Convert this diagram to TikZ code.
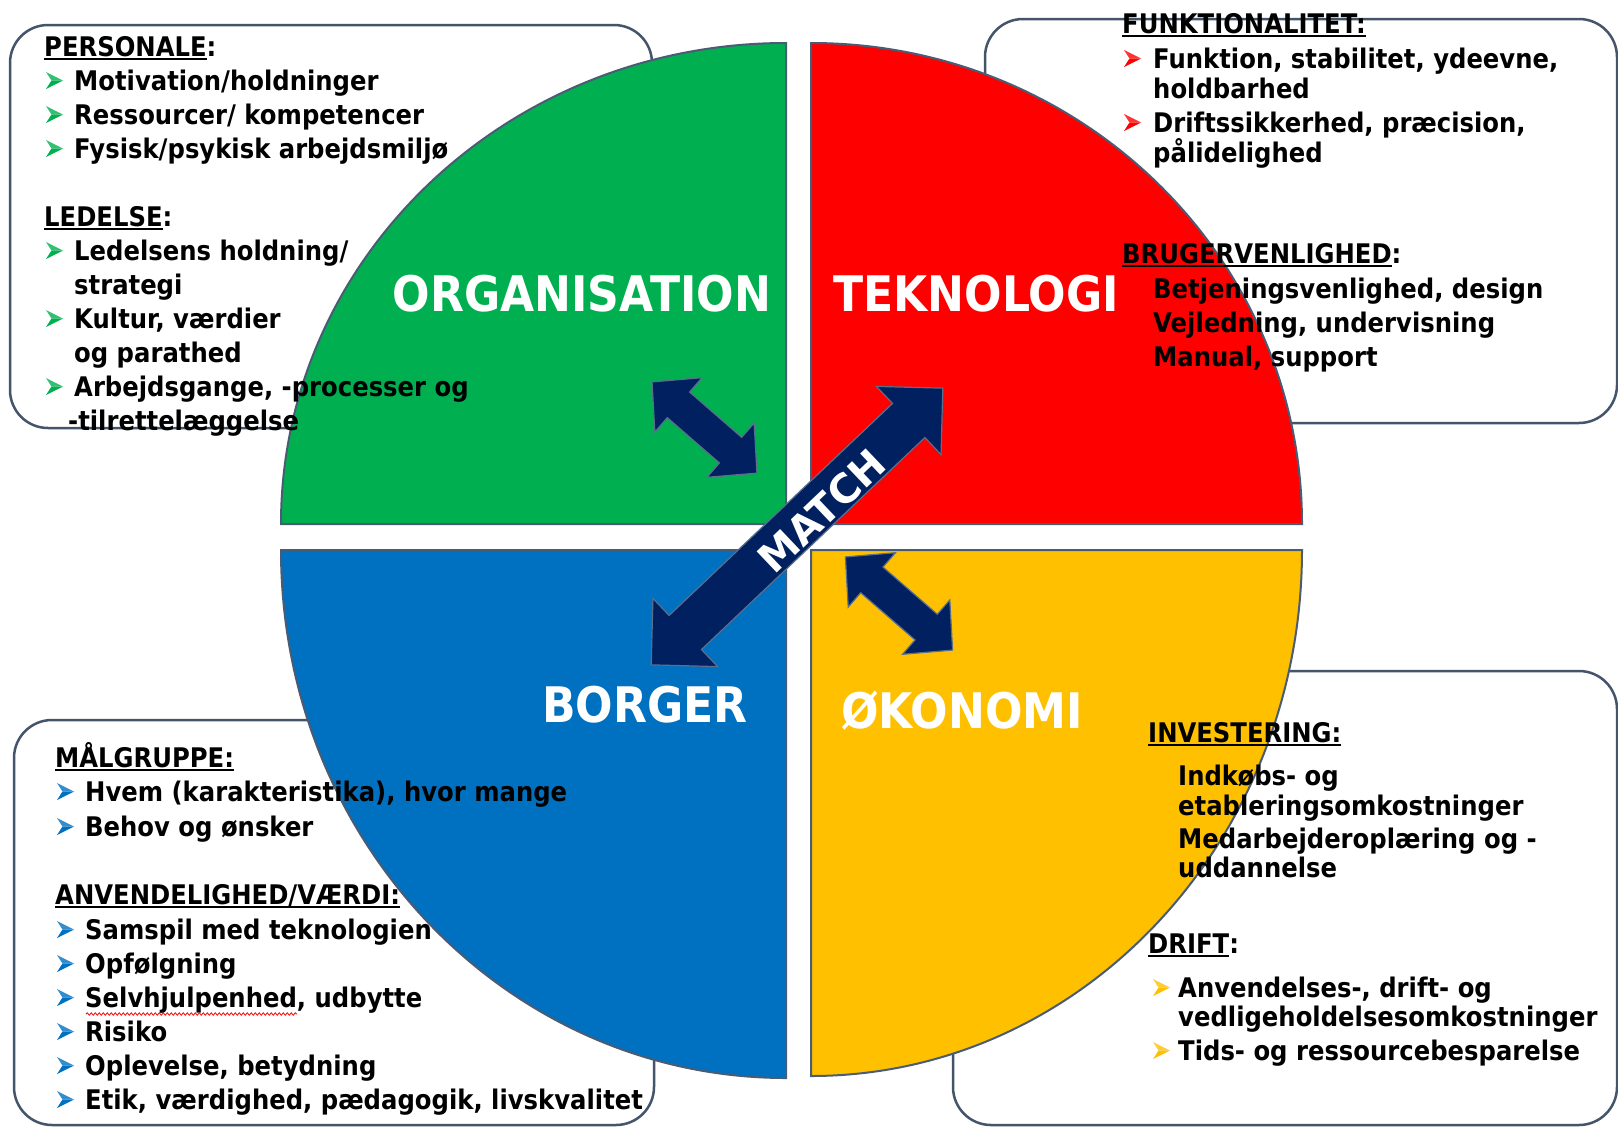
\documentclass[tikz,border=0pt]{standalone}
\usepackage{fontspec}
\usetikzlibrary{decorations.pathmorphing}

\newfontfamily\bodyfont{DejaVu Sans}[FakeStretch=0.9]
\newfontfamily\matchfont{DejaVu Sans}

\definecolor{orggreen}{HTML}{00B050}
\definecolor{tekred}{HTML}{FF0000}
\definecolor{borgblue}{HTML}{0070C0}
\definecolor{okoyellow}{HTML}{FFC000}
\definecolor{navy}{HTML}{002060}
\definecolor{edgegray}{HTML}{4A5C74}
\definecolor{boxgray}{HTML}{44546A}
\definecolor{arrowedge}{HTML}{5A6F8C}

% underline drawn as a plain rule below the heading word
\newcommand{\ulhead}[1]{\setbox0\hbox{#1}\rlap{\rule[-3.5pt]{\wd0}{2pt}}\box0}

\tikzset{
  quad/.style={draw=edgegray, line width=2pt},
  infobox/.style={draw=boxgray, line width=2.5pt, rounded corners=38pt, fill=white},
  matcharrow/.style={fill=navy, draw=arrowedge, line width=1.2pt},
  txt/.style={anchor=base west, inner sep=0pt, font=\bodyfont\bfseries\fontsize{27}{32}\selectfont},
  quadlabel/.style={anchor=base, inner sep=0pt, text=white, font=\bodyfont\bfseries\fontsize{49}{56}\selectfont},
}

\begin{document}
\begin{tikzpicture}[x=1pt,y=-1pt]
    \useasboundingbox (0,0) rectangle (1618,1128);
    \fill[white] (0,0) rectangle (1618,1128);

    % text boxes behind the circle
    \draw[infobox] (10,25) rectangle (652,428);
    \draw[infobox] (985,19) rectangle (1617,423);
    \draw[infobox] (14,720) rectangle (654,1125);
    \draw[infobox] (953,671) rectangle (1617,1125);

    % four quarters
    \draw[quad, fill=orggreen] (786,524) -- (281,524) arc[start angle=180, end angle=270, x radius=505, y radius=481] -- cycle;
    \draw[quad, fill=tekred] (811,524) -- (811,43) arc[start angle=270, end angle=360, x radius=491, y radius=481] -- cycle;
    \draw[quad, fill=borgblue] (786,550) -- (281,550) arc[start angle=180, end angle=90, x radius=505, y radius=528] -- cycle;
    \draw[quad, fill=okoyellow] (811,550) -- (1302,550) arc[start angle=0, end angle=90, x radius=491, y radius=526] -- cycle;

    % double arrows: centre / angle / length / half shaft / half head / head length
    \foreach \cx/\cy/\ang/\len/\sh/\hh/\hl in {704.5/427.5/-41/139/17/36/35, 899/603.5/-41/142/17/36/35, 797/526.5/43.5/402/23.5/47/47}{
        \draw[matcharrow, shift={(\cx,\cy)}, rotate=\ang]
            (-\len/2,0) -- (-\len/2+\hl,\hh) -- (-\len/2+\hl,\sh) -- (\len/2-\hl,\sh) -- (\len/2-\hl,\hh)
            -- (\len/2,0) -- (\len/2-\hl,-\hh) -- (\len/2-\hl,-\sh) -- (-\len/2+\hl,-\sh) -- (-\len/2+\hl,-\hh) -- cycle;
    }
    \node[rotate=43.5, inner sep=0pt, text=white, font=\matchfont\bfseries\fontsize{40}{44}\selectfont] (match) at (822,511) {MATCH};

    % quarter labels
    \node[quadlabel] (org) at (582,311) {ORGANISATION};
    \node[quadlabel] (tek) at (976,311) {TEKNOLOGI};
    \node[quadlabel] (borger) at (645,722) {BORGER};
    \node[quadlabel] (oko) at (962,728) {ØKONOMI};

    % organisation box
    \node[txt] (personale) at (44,56) {\ulhead{PERSONALE}:};
    \node[txt] (ledelse) at (44,226) {\ulhead{LEDELSE}:};
    \foreach \y/\t in {90/{Motivation/holdninger}, 124/{Ressourcer/ kompetencer}, 158/{Fysisk/psykisk arbejdsmiljø},
                       260/{Ledelsens holdning/}, 294/{strategi}, 328/{Kultur, værdier}, 362/{og parathed},
                       396/{Arbejdsgange, -processer og}}{
        \node[txt] (tl\y) at (74,\y) {\t};
    }
    \node[txt] (tl430) at (68,430) {-tilrettelæggelse};

    % teknologi box
    \node[txt] (funk) at (1122,33) {\ulhead{FUNKTIONALITET:}};
    \node[txt] (brug) at (1122,263) {\ulhead{BRUGERVENLIGHED}:};
    \foreach \y/\t in {68/{Funktion, stabilitet, ydeevne,}, 98/{holdbarhed}, 132/{Driftssikkerhed, præcision,}, 162/{pålidelighed},
                       298/{Betjeningsvenlighed, design}, 332/{Vejledning, undervisning}, 366/{Manual, support}}{
        \node[txt] (tr\y) at (1153,\y) {\t};
    }

    % borger box
    \node[txt] (maal) at (55,767) {\ulhead{MÅLGRUPPE:}};
    \node[txt] (anv) at (55,904) {\ulhead{ANVENDELIGHED/VÆRDI:}};
    \foreach \y/\t in {801/{Hvem (karakteristika), hvor mange}, 836/{Behov og ønsker}, 939/{Samspil med teknologien},
                       973/{Opfølgning}, 1007/{Selvhjulpenhed, udbytte}, 1041/{Risiko}, 1075/{Oplevelse, betydning},
                       1109/{Etik, værdighed, pædagogik, livskvalitet}}{
        \node[txt] (bl\y) at (85,\y) {\t};
    }
    \draw[tekred, line width=0.8pt, decorate, decoration={snake, amplitude=1.2pt, segment length=4pt}] (86,1014) -- (297,1014);

    % okonomi box
    \node[txt] (inv) at (1148,742) {\ulhead{INVESTERING:}};
    \node[txt] (drift) at (1148,953) {\ulhead{DRIFT}:};
    \foreach \y/\t in {785/{Indkøbs- og}, 815/{etableringsomkostninger}, 848/{Medarbejderoplæring og -}, 877/{uddannelse},
                       997/{Anvendelses-, drift- og}, 1026/{vedligeholdelsesomkostninger}, 1060/{Tids- og ressourcebesparelse}}{
        \node[txt] (br\y) at (1178,\y) {\t};
    }

    % arrowhead bullets: x / baseline / colour
    \foreach \x/\y/\c in {46/90/orggreen, 46/124/orggreen, 46/158/orggreen, 46/260/orggreen, 46/328/orggreen, 46/396/orggreen,
                          1124/68/tekred, 1124/132/tekred,
                          57/801/borgblue, 57/836/borgblue, 57/939/borgblue, 57/973/borgblue, 57/1007/borgblue,
                          57/1041/borgblue, 57/1075/borgblue, 57/1109/borgblue,
                          1153/997/okoyellow, 1153/1060/okoyellow}{
        \fill[\c!80!white, shift={(\x,\y)}] (0,-18) -- (17,-9.5) -- (5.5,-9.5) -- cycle;
        \fill[\c, shift={(\x,\y)}] (5.5,-9.5) -- (17,-9.5) -- (0,-1) -- cycle;
    }
\end{tikzpicture}
\end{document}
